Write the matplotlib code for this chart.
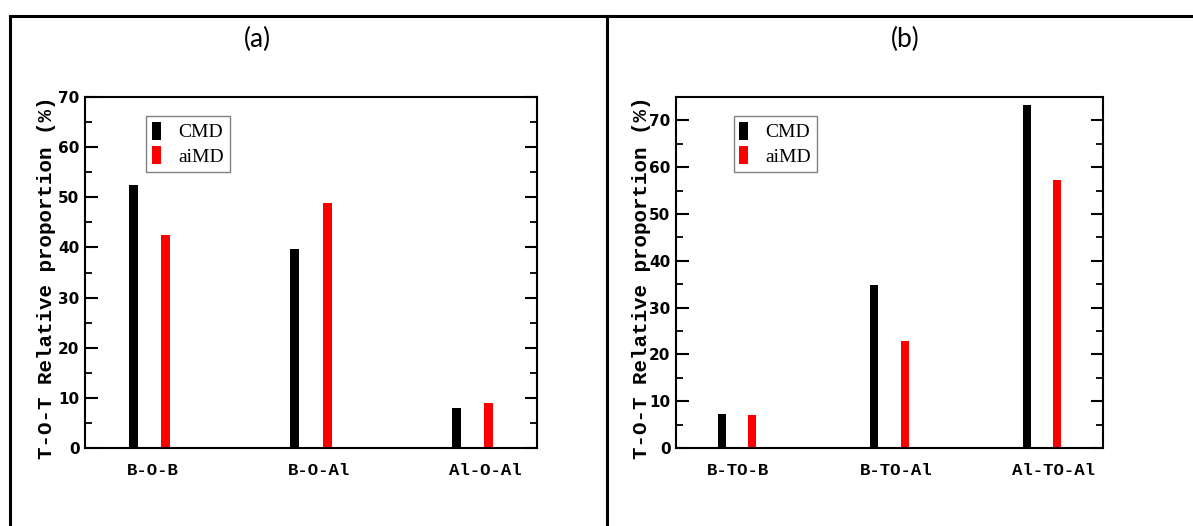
import matplotlib.pyplot as plt
from matplotlib.lines import Line2D
from matplotlib.patches import Patch
from matplotlib.ticker import MultipleLocator
import numpy as np


# panel (a): T-O-T
labels_a = ["B-O-B", "B-O-Al", "Al-O-Al"]
cmd_a = [52.4, 39.7, 8.0]
aimd_a = [42.4, 48.8, 9.0]

# panel (b): T-TO-T
labels_b = ["B-TO-B", "B-TO-Al", "Al-TO-Al"]
cmd_b = [7.2, 34.9, 73.3]
aimd_b = [7.0, 22.8, 57.2]

MONO = "Liberation Mono"


def draw_panel(ax, labels, cmd, aimd, ymax, label_shift, ylab_x):
    x = np.arange(1, len(labels) + 1)
    ax.bar(x - 0.1, cmd, width=0.055, color="black")
    ax.bar(x + 0.1, aimd, width=0.055, color="red")

    ax.set_xlim(0.6, 3.4)
    ax.set_ylim(0, ymax)
    ax.yaxis.set_major_locator(MultipleLocator(10))
    ax.yaxis.set_minor_locator(MultipleLocator(5))
    ax.tick_params(axis="y", which="major", direction="in", length=9, width=1.5,
                   right=True, labelsize=11, pad=4)
    ax.tick_params(axis="y", which="minor", direction="in", length=5, width=1.3,
                   right=True)
    for lab in ax.get_yticklabels():
        lab.set_fontweight("bold")

    # category labels sit left-aligned slightly left of the black bar
    ax.set_xticks(x + label_shift)
    ax.set_xticklabels(labels, ha="left", fontfamily=MONO, fontweight="bold",
                       fontsize=12.5)
    ax.tick_params(axis="x", length=0, pad=11)

    ax.set_ylabel("T-O-T Relative proportion (%)", fontfamily=MONO,
                  fontweight="bold", fontsize=15)
    ax.yaxis.set_label_coords(ylab_x, 0.485)
    for sp in ax.spines.values():
        sp.set_linewidth(1.5)

    handles = [Patch(facecolor="black"), Patch(facecolor="red")]
    leg = ax.legend(handles, ["CMD", "aiMD"], loc="upper left",
                    bbox_to_anchor=(0.135, 0.945), fancybox=False,
                    edgecolor="gray", framealpha=1,
                    prop={"family": "Liberation Serif", "size": 14},
                    handlelength=0.45, handleheight=1.0, handletextpad=0.9,
                    labelspacing=0.25, borderpad=0.3, borderaxespad=0)
    leg.get_frame().set_linewidth(1.0)


fig = plt.figure(figsize=(11.93, 5.26), dpi=100)
W, H = 1193, 526

ax_a = fig.add_axes([85 / W, 1 - 448 / H, 452 / W, 351 / H])
ax_b = fig.add_axes([676 / W, 1 - 448 / H, 427 / W, 351 / H])

draw_panel(ax_a, labels_a, cmd_a, aimd_a, 70, -0.143, -0.064)
draw_panel(ax_b, labels_b, cmd_b, aimd_b, 75, -0.197, -0.059)

# table-like frame around the two panels
lw = 2.2
fig.add_artist(Line2D([10 / W, 1], [1 - 16 / H, 1 - 16 / H], color="black", lw=lw))
fig.add_artist(Line2D([10 / W, 10 / W], [0, 1 - 16 / H], color="black", lw=lw))
fig.add_artist(Line2D([607 / W, 607 / W], [0, 1 - 16 / H], color="black", lw=lw))

fig.text(257 / W, 1 - 39 / H, "(a)", ha="center", va="center",
         fontfamily="Lato", fontsize=19)
fig.text(905 / W, 1 - 39 / H, "(b)", ha="center", va="center",
         fontfamily="Lato", fontsize=19)

fig.savefig("out.png", dpi=100)
